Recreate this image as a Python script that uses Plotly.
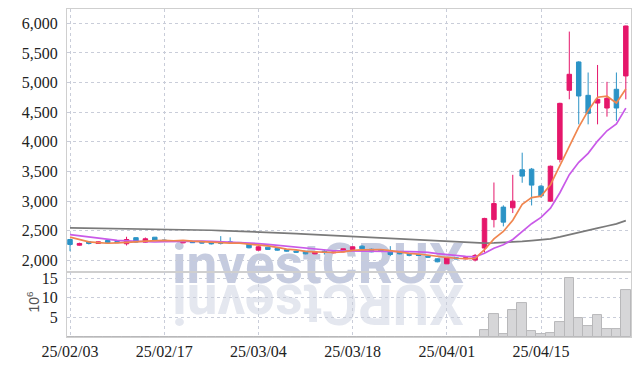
import plotly.graph_objects as go

dates = [
    "2025-02-03", "2025-02-04", "2025-02-05", "2025-02-06", "2025-02-07",
    "2025-02-10", "2025-02-11", "2025-02-12", "2025-02-13", "2025-02-14",
    "2025-02-17", "2025-02-18", "2025-02-19", "2025-02-20", "2025-02-21",
    "2025-02-24", "2025-02-25", "2025-02-26", "2025-02-27", "2025-02-28",
    "2025-03-04", "2025-03-05", "2025-03-06", "2025-03-07", "2025-03-10",
    "2025-03-11", "2025-03-12", "2025-03-13", "2025-03-14", "2025-03-17",
    "2025-03-18", "2025-03-19", "2025-03-20", "2025-03-21", "2025-03-24",
    "2025-03-25", "2025-03-26", "2025-03-27", "2025-03-28", "2025-03-31",
    "2025-04-01", "2025-04-02", "2025-04-03", "2025-04-04", "2025-04-07",
    "2025-04-08", "2025-04-09", "2025-04-10", "2025-04-11", "2025-04-14",
    "2025-04-15", "2025-04-16", "2025-04-17", "2025-04-18", "2025-04-21",
    "2025-04-22", "2025-04-23", "2025-04-24", "2025-04-25", "2025-04-28",
]

opens = [2354, 2258, 2315, 2287, 2337, 2320, 2282, 2385, 2309, 2393,
         2345, 2335, 2298, 2320, 2310, 2309, 2310, 2315, 2305, 2287,
         2174, 2225, 2203, 2186, 2157, 2157, 2112, 2157, 2130, 2146,
         2186, 2242, 2190, 2174, 2157, 2140, 2101, 2101, 2073, 2028,
         1944, 2045, 2028, 2008, 2210, 2690, 2900, 2889, 3530, 3540,
         3254, 3001, 3705, 4870, 5348, 4785, 4655, 4571, 4887, 5112]
highs = [2354, 2300, 2320, 2320, 2345, 2325, 2400, 2390, 2388, 2395,
         2350, 2345, 2345, 2325, 2315, 2312, 2411, 2390, 2310, 2290,
         2240, 2230, 2210, 2190, 2165, 2160, 2150, 2180, 2145, 2200,
         2240, 2255, 2200, 2180, 2242, 2145, 2120, 2105, 2078, 2035,
         2060, 2050, 2050, 2110, 2720, 3315, 2930, 3445, 3818, 3560,
         3270, 3600, 4660, 5860, 5360, 5170, 5297, 5013, 5170, 5960]
lows = [2157, 2250, 2270, 2285, 2290, 2295, 2253, 2300, 2300, 2330,
        2325, 2315, 2290, 2295, 2290, 2270, 2270, 2290, 2285, 2205,
        2170, 2180, 2165, 2150, 2135, 2105, 2105, 2100, 2120, 2140,
        2180, 2190, 2140, 2150, 2073, 2105, 2070, 2080, 2050, 1970,
        1940, 2020, 2020, 1985, 2135, 2557, 2575, 2800, 3311, 2928,
        3057, 2990, 3654, 4718, 4296, 4296, 4296, 4426, 4355, 4718]
closes = [2270, 2287, 2287, 2315, 2298, 2300, 2354, 2310, 2366, 2337,
          2330, 2320, 2337, 2300, 2295, 2280, 2290, 2300, 2295, 2214,
          2231, 2186, 2174, 2157, 2140, 2112, 2146, 2135, 2140, 2197,
          2231, 2197, 2145, 2157, 2101, 2112, 2090, 2084, 2056, 1978,
          2045, 2028, 2045, 2085, 2709, 2960, 2647, 3001, 3423, 3271,
          3090, 3590, 4650, 5140, 4774, 4481, 4718, 4735, 4571, 5955]

ma5 = [2393, 2350, 2315, 2300, 2291, 2297, 2311, 2315, 2326, 2333,
       2339, 2333, 2338, 2325, 2316, 2306, 2300, 2293, 2292, 2276,
       2266, 2245, 2220, 2192, 2178, 2154, 2146, 2138, 2135, 2146,
       2170, 2180, 2182, 2185, 2166, 2142, 2121, 2109, 2089, 2064,
       2051, 2038, 2030, 2036, 2182, 2365, 2489, 2680, 2948, 3060,
       3086, 3275, 3605, 3948, 4249, 4527, 4753, 4770, 4656, 4892]
ma10 = [2437, 2418, 2395, 2372, 2352, 2338, 2330, 2323, 2317, 2312,
        2318, 2322, 2327, 2325, 2325, 2323, 2317, 2316, 2308, 2296,
        2286, 2273, 2257, 2242, 2227, 2210, 2196, 2179, 2164, 2162,
        2162, 2163, 2160, 2160, 2156, 2156, 2151, 2145, 2137, 2115,
        2097, 2080, 2070, 2062, 2123, 2208, 2264, 2355, 2492, 2621,
        2726, 2882, 3143, 3448, 3655, 3807, 4014, 4187, 4302, 4570]
ma60 = [2550, 2548, 2546, 2544, 2542, 2540, 2538, 2536, 2534, 2531,
        2528, 2525, 2522, 2518, 2514, 2510, 2505, 2500, 2494, 2488,
        2482, 2475, 2468, 2461, 2454, 2446, 2438, 2430, 2422, 2414,
        2406, 2398, 2390, 2382, 2373, 2364, 2355, 2346, 2337, 2328,
        2318, 2308, 2300, 2294, 2292, 2296, 2302, 2310, 2322, 2336,
        2348, 2366, 2398, 2438, 2476, 2510, 2546, 2582, 2618, 2672]

volume_m = [0.10, 0.06, 0.05, 0.05, 0.06, 0.05, 0.08, 0.06, 0.07, 0.06,
            0.05, 0.05, 0.06, 0.05, 0.05, 0.05, 0.07, 0.06, 0.05, 0.06,
            0.06, 0.05, 0.05, 0.05, 0.05, 0.05, 0.05, 0.05, 0.04, 0.05,
            0.06, 0.05, 0.05, 0.04, 0.06, 0.04, 0.04, 0.04, 0.04, 0.05,
            0.07, 0.04, 0.04, 0.06, 1.8, 5.9, 0.8, 6.9, 8.6, 1.4,
            0.8, 1.0, 3.8, 15.0, 4.8, 2.8, 5.6, 2.0, 2.0, 11.9]

tick_dates = ["2025-02-03", "2025-02-17", "2025-03-04", "2025-03-18",
              "2025-04-01", "2025-04-15"]
tick_labels = ["25/02/03", "25/02/17", "25/03/04", "25/03/18",
               "25/04/01", "25/04/15"]
price_ticks = [2000, 2500, 3000, 3500, 4000, 4500, 5000, 5500, 6000]
volume_ticks = [5, 10, 15]

INC = "#e5176b"
DEC = "#2b93c6"
GRID = "#c9cdd9"
FRAME = "#cfcfcf"
TICKFONT = dict(family="Liberation Sans Narrow", size=16, color="#222222")

fig = go.Figure()

fig.add_trace(go.Bar(
    x=dates, y=volume_m, xaxis="x2", yaxis="y2",
    marker=dict(color="#d6d6d8", line=dict(color="#b8b8ba", width=1)),
    showlegend=False, hoverinfo="skip",
))

fig.add_trace(go.Candlestick(
    x=dates, open=opens, high=highs, low=lows, close=closes,
    xaxis="x", yaxis="y",
    increasing=dict(line=dict(color=INC, width=1), fillcolor=INC),
    decreasing=dict(line=dict(color=DEC, width=1), fillcolor=DEC),
    whiskerwidth=0, showlegend=False,
))

for series, color in [(ma60, "#7a7a7a"), (ma10, "#c95ae8"), (ma5, "#f0864f")]:
    fig.add_trace(go.Scatter(
        x=dates, y=series, mode="lines", xaxis="x", yaxis="y",
        line=dict(color=color, width=1.7), showlegend=False, hoverinfo="skip",
    ))

common_x = dict(
    type="category", range=[-0.32, 59.55], automargin=False,
    tickvals=tick_dates, ticktext=tick_labels,
    showgrid=True, gridcolor=GRID, griddash="dot", gridwidth=1,
    showline=True, mirror=True, linecolor=FRAME, linewidth=1,
    ticks="", zeroline=False, tickfont=TICKFONT,
)
common_y = dict(
    automargin=False, showgrid=True, gridcolor=GRID, griddash="dot",
    showline=True, mirror=True, linecolor=FRAME, zeroline=False,
    ticks="", tickfont=TICKFONT, ticklabelstandoff=5,
)

WM_FONT = "Roboto, Liberation Sans, sans-serif"

fig.update_layout(
    width=639, height=366,
    margin=dict(l=67, r=8, t=9, b=29, autoexpand=False),
    paper_bgcolor="white", plot_bgcolor="white",
    bargap=0, boxgap=0.32,
    xaxis=dict(common_x, anchor="y", showticklabels=False,
               rangeslider=dict(visible=False)),
    xaxis2=dict(common_x, anchor="y2", matches="x", showticklabels=True),
    yaxis=dict(common_y, domain=[0.198, 1], range=[1805, 6241],
               tickvals=price_ticks, tickformat=",d"),
    yaxis2=dict(common_y, domain=[0, 0.198], range=[0, 16.53],
                tickvals=volume_ticks),
    shapes=[
        dict(type="rect", xref="paper", yref="paper",
             x0=0.2, x1=0.69, y0=0.138, y1=0.332, layer="below",
             line=dict(width=0), fillcolor="rgba(0,0,0,0)",
             label=dict(text="investCRUX", textposition="middle center",
                        font=dict(family=WM_FONT, size=55,
                                  weight="bold", color="#c5cbdf"))),
        dict(type="rect", xref="paper", yref="paper",
             x0=0.2, x1=0.69, y0=-0.01, y1=0.184, layer="below",
             line=dict(width=0), fillcolor="rgba(0,0,0,0)",
             label=dict(text="XURCtsevni", textposition="middle center",
                        textangle=180,
                        font=dict(family=WM_FONT, size=55,
                                  weight="bold", color="#e4e7ef"))),
    ],
    annotations=[
        dict(text="10<sup>6</sup>", xref="paper", yref="paper",
             x=-0.061, y=0.107, xanchor="center", yanchor="middle",
             showarrow=False, textangle=-90,
             font=dict(family="Liberation Sans", size=14, color="#555555")),
    ],
)

fig.write_html("out.html")
